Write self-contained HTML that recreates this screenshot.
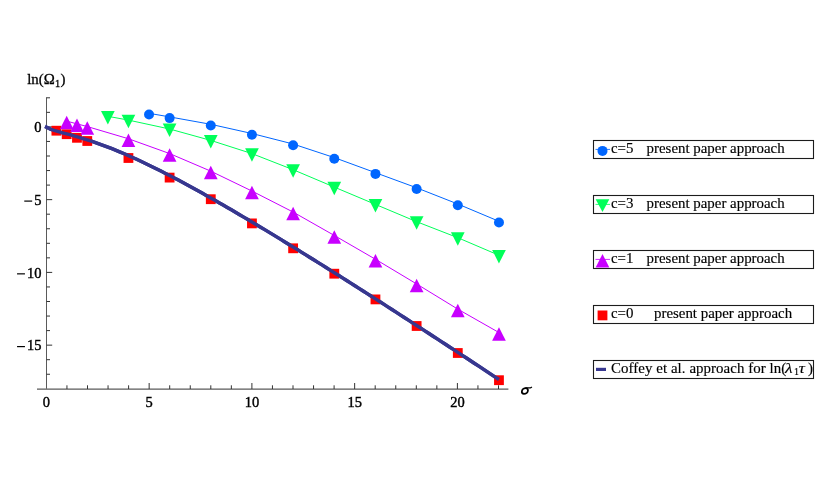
<!DOCTYPE html>
<html><head><meta charset="utf-8"><title>plot</title>
<style>html,body{margin:0;padding:0;background:#fff;}body{width:830px;height:498px;overflow:hidden;}svg{display:block;will-change:transform;}text{font-family:"Liberation Serif",serif;fill:#000;stroke:#000;stroke-width:0.15px;}.tk{stroke-width:0.42px;}.lb{stroke-width:0.3px;}</style></head><body>
<svg width="830" height="498" viewBox="0 0 830 498">
<rect width="830" height="498" fill="#fff"/>
<g stroke="#5a5a5a" stroke-width="1" fill="none">
<line x1="46.5" y1="97.30" x2="46.5" y2="388.80"/>
<line x1="37" y1="389" x2="508.4" y2="389" stroke-width="1.25"/>
<line x1="46.5" y1="374.25" x2="50.0" y2="374.25" stroke="#333"/>
<line x1="46.5" y1="359.70" x2="50.0" y2="359.70" stroke="#333"/>
<line x1="46.5" y1="345.15" x2="52.2" y2="345.15" stroke="#333"/>
<line x1="46.5" y1="330.60" x2="50.0" y2="330.60" stroke="#333"/>
<line x1="46.5" y1="316.05" x2="50.0" y2="316.05" stroke="#333"/>
<line x1="46.5" y1="301.50" x2="50.0" y2="301.50" stroke="#333"/>
<line x1="46.5" y1="286.95" x2="50.0" y2="286.95" stroke="#333"/>
<line x1="46.5" y1="272.40" x2="52.2" y2="272.40" stroke="#333"/>
<line x1="46.5" y1="257.85" x2="50.0" y2="257.85" stroke="#333"/>
<line x1="46.5" y1="243.30" x2="50.0" y2="243.30" stroke="#333"/>
<line x1="46.5" y1="228.75" x2="50.0" y2="228.75" stroke="#333"/>
<line x1="46.5" y1="214.20" x2="50.0" y2="214.20" stroke="#333"/>
<line x1="46.5" y1="199.65" x2="52.2" y2="199.65" stroke="#333"/>
<line x1="46.5" y1="185.10" x2="50.0" y2="185.10" stroke="#333"/>
<line x1="46.5" y1="170.55" x2="50.0" y2="170.55" stroke="#333"/>
<line x1="46.5" y1="156.00" x2="50.0" y2="156.00" stroke="#333"/>
<line x1="46.5" y1="141.45" x2="50.0" y2="141.45" stroke="#333"/>
<line x1="46.5" y1="126.90" x2="52.2" y2="126.90" stroke="#333"/>
<line x1="46.5" y1="112.35" x2="50.0" y2="112.35" stroke="#333"/>
<line x1="46.5" y1="97.80" x2="50.0" y2="97.80" stroke="#333"/>
<line x1="66.95" y1="389" x2="66.95" y2="385.30" stroke="#333"/>
<line x1="87.50" y1="389" x2="87.50" y2="385.30" stroke="#333"/>
<line x1="108.05" y1="389" x2="108.05" y2="385.30" stroke="#333"/>
<line x1="128.60" y1="389" x2="128.60" y2="385.30" stroke="#333"/>
<line x1="149.15" y1="389" x2="149.15" y2="383.00" stroke="#333"/>
<line x1="169.70" y1="389" x2="169.70" y2="385.30" stroke="#333"/>
<line x1="190.25" y1="389" x2="190.25" y2="385.30" stroke="#333"/>
<line x1="210.80" y1="389" x2="210.80" y2="385.30" stroke="#333"/>
<line x1="231.35" y1="389" x2="231.35" y2="385.30" stroke="#333"/>
<line x1="251.90" y1="389" x2="251.90" y2="383.00" stroke="#333"/>
<line x1="272.45" y1="389" x2="272.45" y2="385.30" stroke="#333"/>
<line x1="293.00" y1="389" x2="293.00" y2="385.30" stroke="#333"/>
<line x1="313.55" y1="389" x2="313.55" y2="385.30" stroke="#333"/>
<line x1="334.10" y1="389" x2="334.10" y2="385.30" stroke="#333"/>
<line x1="354.65" y1="389" x2="354.65" y2="383.00" stroke="#333"/>
<line x1="375.20" y1="389" x2="375.20" y2="385.30" stroke="#333"/>
<line x1="395.75" y1="389" x2="395.75" y2="385.30" stroke="#333"/>
<line x1="416.30" y1="389" x2="416.30" y2="385.30" stroke="#333"/>
<line x1="436.85" y1="389" x2="436.85" y2="385.30" stroke="#333"/>
<line x1="457.40" y1="389" x2="457.40" y2="383.00" stroke="#333"/>
<line x1="477.95" y1="389" x2="477.95" y2="385.30" stroke="#333"/>
<line x1="498.50" y1="389" x2="498.50" y2="385.30" stroke="#333"/>
</g>
<g font-size="14.9">
<text transform="translate(41.4,132.05) scale(0.97,1.04)" text-anchor="end" class="tk">0</text>
<text transform="translate(41.4,204.80) scale(0.97,1.04)" text-anchor="end" class="tk">5</text>
<line x1="24.27" y1="201.10" x2="32.17" y2="201.10" stroke="#000" stroke-width="1.2"/>
<text transform="translate(41.4,277.55) scale(0.97,1.04)" text-anchor="end" class="tk">10</text>
<line x1="17.05" y1="273.85" x2="24.95" y2="273.85" stroke="#000" stroke-width="1.2"/>
<text transform="translate(41.4,350.30) scale(0.97,1.04)" text-anchor="end" class="tk">15</text>
<line x1="17.05" y1="346.60" x2="24.95" y2="346.60" stroke="#000" stroke-width="1.2"/>
<text transform="translate(46.40,406.8) scale(0.97,1.04)" text-anchor="middle" class="tk">0</text>
<text transform="translate(149.15,406.8) scale(0.97,1.04)" text-anchor="middle" class="tk">5</text>
<text transform="translate(251.90,406.8) scale(0.97,1.04)" text-anchor="middle" class="tk">10</text>
<text transform="translate(354.65,406.8) scale(0.97,1.04)" text-anchor="middle" class="tk">15</text>
<text transform="translate(457.40,406.8) scale(0.97,1.04)" text-anchor="middle" class="tk">20</text>
<text transform="translate(27.2,84.4) scale(1,1.045)" class="lb">ln(Ω</text>
<text transform="translate(55.1,86.5) scale(1,1.05)" font-size="10.3" class="lb">1</text>
<text transform="translate(60.4,84.4) scale(1,1.045)" class="lb">)</text>
<ellipse cx="0" cy="0" rx="3.0" ry="2.9" transform="translate(524.9,391.05) skewX(-14)" fill="none" stroke="#000" stroke-width="1.7"/>
<path d="M525.4,387.95 L530.4,387.85 Q531.3,387.7 531.8,386.9" fill="none" stroke="#000" stroke-width="1.3"/>
</g>
<polyline points="45.10,126.38 46.10,126.90 50.22,129.05 54.33,130.47 58.45,131.67 62.57,132.78 66.69,133.87 70.80,134.98 74.92,136.13 79.04,137.31 83.15,138.55 87.27,139.84 91.39,141.18 95.50,142.57 99.62,144.03 103.74,145.53 107.86,147.09 111.97,148.70 116.09,150.35 120.21,152.06 124.32,153.81 128.44,155.61 132.56,157.44 136.67,159.32 140.79,161.23 144.91,163.18 149.03,165.16 153.14,167.18 157.26,169.22 161.38,171.30 165.49,173.40 169.61,175.53 173.73,177.68 177.84,179.86 181.96,182.06 186.08,184.28 190.19,186.52 194.31,188.78 198.43,191.06 202.55,193.35 206.66,195.67 210.78,197.99 214.90,200.34 219.01,202.69 223.13,205.06 227.25,207.45 231.37,209.84 235.48,212.25 239.60,214.67 243.72,217.10 247.83,219.55 251.95,222.00 256.07,224.46 260.18,226.93 264.30,229.41 268.42,231.90 272.54,234.40 276.65,236.90 280.77,239.42 284.89,241.94 289.00,244.47 293.12,247.00 297.24,249.54 301.35,252.09 305.47,254.65 309.59,257.21 313.71,259.77 317.82,262.35 321.94,264.93 326.06,267.51 330.17,270.10 334.29,272.69 338.41,275.29 342.52,277.90 346.64,280.51 350.76,283.12 354.88,285.74 358.99,288.36 363.11,290.99 367.23,293.62 371.34,296.26 375.46,298.89 379.58,301.54 383.69,304.18 387.81,306.83 391.93,309.49 396.05,312.15 400.16,314.81 404.28,317.47 408.40,320.14 412.51,322.81 416.63,325.48 420.75,328.16 424.86,330.84 428.98,333.52 433.10,336.21 437.22,338.90 441.33,341.59 445.45,344.28 449.57,346.98 453.68,349.68 457.80,352.38 461.92,355.08 466.03,357.79 470.15,360.50 474.27,363.21 478.39,365.93 482.50,368.64 486.62,371.36 490.74,374.08 494.85,376.80 498.97,379.53" fill="none" stroke="#37378f" stroke-width="3.4" stroke-linejoin="round"/>
<rect x="51.49" y="125.80" width="9.8" height="9.8" fill="#ff0000"/>
<rect x="61.79" y="129.30" width="9.8" height="9.8" fill="#ff0000"/>
<rect x="72.08" y="132.90" width="9.8" height="9.8" fill="#ff0000"/>
<rect x="82.37" y="136.10" width="9.8" height="9.8" fill="#ff0000"/>
<rect x="123.54" y="153.10" width="9.8" height="9.8" fill="#ff0000"/>
<rect x="164.71" y="172.70" width="9.8" height="9.8" fill="#ff0000"/>
<rect x="205.88" y="194.30" width="9.8" height="9.8" fill="#ff0000"/>
<rect x="247.05" y="218.50" width="9.8" height="9.8" fill="#ff0000"/>
<rect x="288.22" y="243.40" width="9.8" height="9.8" fill="#ff0000"/>
<rect x="329.39" y="268.80" width="9.8" height="9.8" fill="#ff0000"/>
<rect x="370.56" y="294.50" width="9.8" height="9.8" fill="#ff0000"/>
<rect x="411.73" y="321.10" width="9.8" height="9.8" fill="#ff0000"/>
<rect x="452.90" y="348.10" width="9.8" height="9.8" fill="#ff0000"/>
<rect x="494.07" y="375.30" width="9.8" height="9.8" fill="#ff0000"/>
<polyline points="45.10,126.38 46.10,126.90 50.22,129.05 54.33,130.47 58.45,131.67 62.57,132.78 66.69,133.87 70.80,134.98 74.92,136.13 79.04,137.31 83.15,138.55 87.27,139.84 91.39,141.18 95.50,142.57 99.62,144.03 103.74,145.53 107.86,147.09 111.97,148.70 116.09,150.35 120.21,152.06 124.32,153.81 128.44,155.61 132.56,157.44 136.67,159.32 140.79,161.23 144.91,163.18 149.03,165.16 153.14,167.18 157.26,169.22 161.38,171.30 165.49,173.40 169.61,175.53 173.73,177.68 177.84,179.86 181.96,182.06 186.08,184.28 190.19,186.52 194.31,188.78 198.43,191.06 202.55,193.35 206.66,195.67 210.78,197.99 214.90,200.34 219.01,202.69 223.13,205.06 227.25,207.45 231.37,209.84 235.48,212.25 239.60,214.67 243.72,217.10 247.83,219.55 251.95,222.00 256.07,224.46 260.18,226.93 264.30,229.41 268.42,231.90 272.54,234.40 276.65,236.90 280.77,239.42 284.89,241.94 289.00,244.47 293.12,247.00 297.24,249.54 301.35,252.09 305.47,254.65 309.59,257.21 313.71,259.77 317.82,262.35 321.94,264.93 326.06,267.51 330.17,270.10 334.29,272.69 338.41,275.29 342.52,277.90 346.64,280.51 350.76,283.12 354.88,285.74 358.99,288.36 363.11,290.99 367.23,293.62 371.34,296.26 375.46,298.89 379.58,301.54 383.69,304.18 387.81,306.83 391.93,309.49 396.05,312.15 400.16,314.81 404.28,317.47 408.40,320.14 412.51,322.81 416.63,325.48 420.75,328.16 424.86,330.84 428.98,333.52 433.10,336.21 437.22,338.90 441.33,341.59 445.45,344.28 449.57,346.98 453.68,349.68 457.80,352.38 461.92,355.08 466.03,357.79 470.15,360.50 474.27,363.21 478.39,365.93 482.50,368.64 486.62,371.36 490.74,374.08 494.85,376.80 498.97,379.53" fill="none" stroke="#37378f" stroke-width="3.4" stroke-linejoin="round"/>
<polyline points="66.69,121.15 76.98,123.85 87.27,126.55 128.44,138.75 169.61,153.55 210.78,171.15 251.95,191.05 293.12,212.05 334.29,235.45 375.46,259.25 416.63,283.95 457.80,309.15 498.97,332.55" fill="none" stroke="#c800ff" stroke-width="1.0"/>
<polygon points="66.69,115.85 73.53,129.35 59.84,129.35" fill="#c800ff"/>
<polygon points="76.98,118.55 83.83,132.05 70.13,132.05" fill="#c800ff"/>
<polygon points="87.27,121.25 94.12,134.75 80.42,134.75" fill="#c800ff"/>
<polygon points="128.44,133.45 135.29,146.95 121.59,146.95" fill="#c800ff"/>
<polygon points="169.61,148.25 176.46,161.75 162.76,161.75" fill="#c800ff"/>
<polygon points="210.78,165.85 217.63,179.35 203.93,179.35" fill="#c800ff"/>
<polygon points="251.95,185.75 258.80,199.25 245.10,199.25" fill="#c800ff"/>
<polygon points="293.12,206.75 299.97,220.25 286.27,220.25" fill="#c800ff"/>
<polygon points="334.29,230.15 341.14,243.65 327.44,243.65" fill="#c800ff"/>
<polygon points="375.46,253.95 382.31,267.45 368.61,267.45" fill="#c800ff"/>
<polygon points="416.63,278.65 423.48,292.15 409.78,292.15" fill="#c800ff"/>
<polygon points="457.80,303.85 464.65,317.35 450.95,317.35" fill="#c800ff"/>
<polygon points="498.97,327.25 505.82,340.75 492.12,340.75" fill="#c800ff"/>
<polyline points="107.86,116.30 128.44,120.10 169.61,129.00 210.78,140.40 251.95,153.60 293.12,169.70 334.29,187.10 375.46,204.40 416.63,221.70 457.80,237.70 498.97,255.30" fill="none" stroke="#00ff59" stroke-width="1.0"/>
<polygon points="101.01,110.90 114.70,110.90 107.86,124.40" fill="#00ff59"/>
<polygon points="121.59,114.70 135.29,114.70 128.44,128.20" fill="#00ff59"/>
<polygon points="162.76,123.60 176.46,123.60 169.61,137.10" fill="#00ff59"/>
<polygon points="203.93,135.00 217.63,135.00 210.78,148.50" fill="#00ff59"/>
<polygon points="245.10,148.20 258.80,148.20 251.95,161.70" fill="#00ff59"/>
<polygon points="286.27,164.30 299.97,164.30 293.12,177.80" fill="#00ff59"/>
<polygon points="327.44,181.70 341.14,181.70 334.29,195.20" fill="#00ff59"/>
<polygon points="368.61,199.00 382.31,199.00 375.46,212.50" fill="#00ff59"/>
<polygon points="409.78,216.30 423.48,216.30 416.63,229.80" fill="#00ff59"/>
<polygon points="450.95,232.30 464.65,232.30 457.80,245.80" fill="#00ff59"/>
<polygon points="492.12,249.90 505.82,249.90 498.97,263.40" fill="#00ff59"/>
<polyline points="149.03,113.30 169.61,116.90 210.78,124.30 251.95,133.50 293.12,144.00 334.29,157.60 375.46,172.70 416.63,187.80 457.80,204.00 498.97,221.30" fill="none" stroke="#0066ff" stroke-width="1.0"/>
<circle cx="149.03" cy="114.50" r="5.0" fill="#0066ff"/>
<circle cx="169.61" cy="118.10" r="5.0" fill="#0066ff"/>
<circle cx="210.78" cy="125.50" r="5.0" fill="#0066ff"/>
<circle cx="251.95" cy="134.70" r="5.0" fill="#0066ff"/>
<circle cx="293.12" cy="145.20" r="5.0" fill="#0066ff"/>
<circle cx="334.29" cy="158.80" r="5.0" fill="#0066ff"/>
<circle cx="375.46" cy="173.90" r="5.0" fill="#0066ff"/>
<circle cx="416.63" cy="189.00" r="5.0" fill="#0066ff"/>
<circle cx="457.80" cy="205.20" r="5.0" fill="#0066ff"/>
<circle cx="498.97" cy="222.50" r="5.0" fill="#0066ff"/>
<g font-size="14.9">
<rect x="593.5" y="140.5" width="220.0" height="18" fill="#fff" stroke="#1c1c1c" stroke-width="1.1"/>
<line x1="595.5" y1="149.4" x2="610" y2="149.4" stroke="#0066ff" stroke-width="0.85"/>
<circle cx="602.5" cy="150.9" r="5.0" fill="#0066ff"/>
<text x="611" y="153.4" xml:space="preserve">c=5</text><text x="646.6" y="153.4">present paper approach</text>
<rect x="593.5" y="195.5" width="220.0" height="18" fill="#fff" stroke="#1c1c1c" stroke-width="1.1"/>
<line x1="595.5" y1="204.4" x2="610" y2="204.4" stroke="#00ff59" stroke-width="0.85"/>
<polygon points="595.65,199.2 609.35,199.2 602.5,212.1" fill="#00ff59"/>
<text x="611" y="208.4">c=3</text><text x="646.6" y="208.4">present paper approach</text>
<rect x="593.5" y="250.5" width="220.0" height="18" fill="#fff" stroke="#1c1c1c" stroke-width="1.1"/>
<line x1="595.5" y1="259.4" x2="610" y2="259.4" stroke="#c800ff" stroke-width="0.85"/>
<polygon points="602.5,254.0 609.35,267.6 595.65,267.6" fill="#c800ff"/>
<text x="611" y="263.4">c=1</text><text x="646.6" y="263.4">present paper approach</text>
<rect x="593.5" y="305.5" width="220.0" height="18" fill="#fff" stroke="#1c1c1c" stroke-width="1.1"/>
<rect x="597.6" y="310.5" width="9.8" height="9.8" fill="#ff0000"/>
<text x="611" y="318.4">c=0</text><text x="654" y="318.4">present paper approach</text>
<rect x="593.5" y="360.5" width="220.0" height="18" fill="#fff" stroke="#1c1c1c" stroke-width="1.1"/>
<line x1="596" y1="369.4" x2="606" y2="369.4" stroke="#37378f" stroke-width="3.2"/>
<text x="611" y="373.4" textLength="175.3" lengthAdjust="spacing">Coffey et al. approach for ln(</text>
<text transform="translate(785.0,373.4) scale(1.17,1)" font-style="italic">λ</text>
<text x="793.9" y="375.29999999999995" font-size="10">1</text>
<text transform="translate(798.8,373.4) scale(1.14,1)" font-style="italic">τ</text>
<text x="807.9" y="373.4">)</text>
</g>
</svg></body></html>
